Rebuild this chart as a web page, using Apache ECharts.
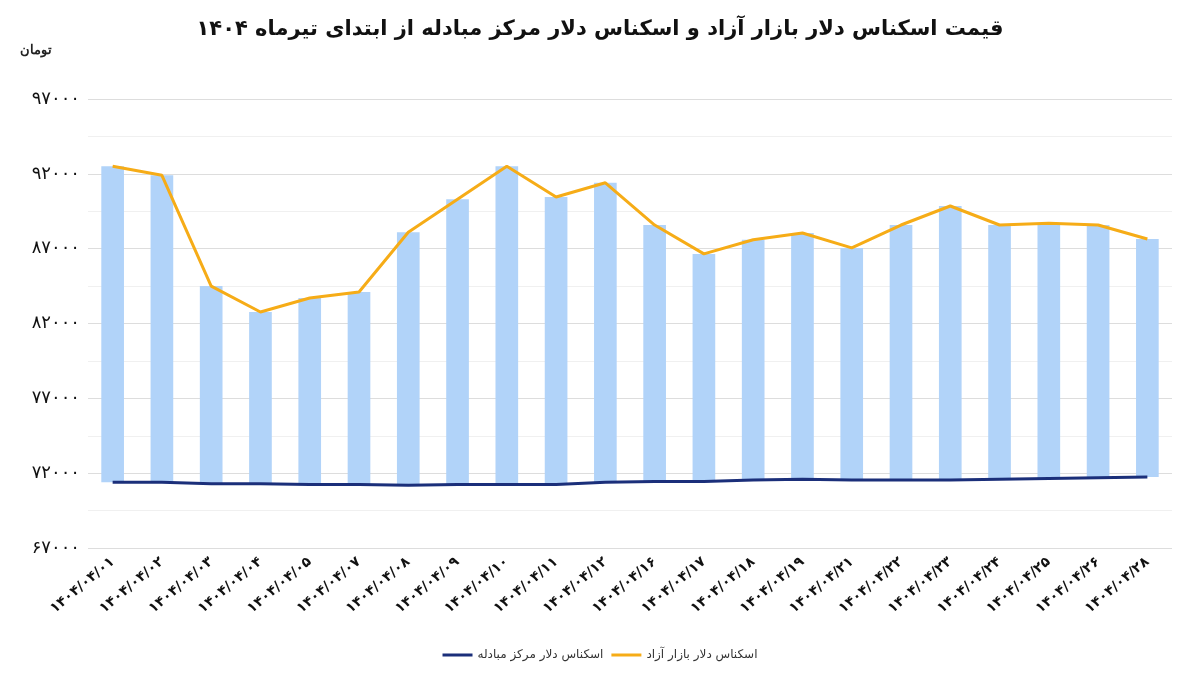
<!DOCTYPE html>
<html><head><meta charset="utf-8">
<script src="https://cdn.jsdelivr.net/npm/echarts@6/dist/echarts.min.js"></script>
<style>html,body{margin:0;padding:0;background:#fff}#c{width:1200px;height:678px}</style>
</head><body><div id="c"></div>
<script>
const categories = ['۱۴۰۴/۰۴/۰۱','۱۴۰۴/۰۴/۰۲','۱۴۰۴/۰۴/۰۳','۱۴۰۴/۰۴/۰۴','۱۴۰۴/۰۴/۰۵','۱۴۰۴/۰۴/۰۷','۱۴۰۴/۰۴/۰۸','۱۴۰۴/۰۴/۰۹','۱۴۰۴/۰۴/۱۰','۱۴۰۴/۰۴/۱۱','۱۴۰۴/۰۴/۱۲','۱۴۰۴/۰۴/۱۶','۱۴۰۴/۰۴/۱۷','۱۴۰۴/۰۴/۱۸','۱۴۰۴/۰۴/۱۹','۱۴۰۴/۰۴/۲۱','۱۴۰۴/۰۴/۲۲','۱۴۰۴/۰۴/۲۳','۱۴۰۴/۰۴/۲۴','۱۴۰۴/۰۴/۲۵','۱۴۰۴/۰۴/۲۶','۱۴۰۴/۰۴/۲۸'];
const freeMarket = [92500,91900,84500,82770,83700,84100,88100,90300,92500,90450,91400,88580,86650,87600,88050,87050,88580,89850,88580,88700,88580,87650];
const exchange = [71400,71400,71300,71300,71250,71250,71200,71250,71250,71250,71400,71450,71450,71550,71600,71550,71550,71550,71600,71650,71700,71750];
const names = ['اسکناس دلار مرکز مبادله','اسکناس دلار بازار آزاد'];
const fa = n => String(n).replace(/\d/g,d=>'۰۱۲۳۴۵۶۷۸۹'[d]);
const chart = echarts.init(document.getElementById('c'));
chart.setOption({
  animation:false,
  textStyle:{fontFamily:'DejaVu Sans'},
  title:{text:'قیمت اسکناس دلار بازار آزاد و اسکناس دلار مرکز مبادله از ابتدای تیرماه ۱۴۰۴',left:'center',top:14,textStyle:{fontSize:21,fontWeight:'bold',color:'#111'}},
  graphic:[{type:'text',left:20,top:44,style:{text:'تومان',fontSize:13,fontWeight:'bold',fill:'#222'}}],
  legend:{bottom:12,itemWidth:30,itemHeight:3,icon:'rect',data:names,textStyle:{fontSize:12,color:'#333'}},
  grid:{left:88,right:28,top:99,bottom:130},
  xAxis:{type:'category',data:categories,axisTick:{show:false},axisLine:{show:false},
    axisLabel:{rotate:40,fontSize:14,fontWeight:'bold',color:'#111',interval:0,margin:12}},
  yAxis:{type:'value',min:67000,max:97000,interval:5000,
    axisLabel:{formatter:v=>fa(v),fontSize:18,color:'#111'},
    splitLine:{lineStyle:{color:'#ddd'}},
    minorTick:{show:false,splitNumber:2},minorSplitLine:{show:true,lineStyle:{color:'#f0f0f0'}}},
  series:[
    {type:'bar',stack:'s',data:exchange,itemStyle:{color:'transparent'},silent:true,barWidth:'46%'},
    {type:'bar',stack:'s',data:freeMarket.map((v,i)=>v-exchange[i]),itemStyle:{color:'#b1d3f9'},barWidth:'46%'},
    {name:names[0],type:'line',data:exchange,symbol:'none',lineStyle:{color:'#1b2f7a',width:3},itemStyle:{color:'#1b2f7a'},z:5},
    {name:names[1],type:'line',data:freeMarket,symbol:'none',lineStyle:{color:'#f6ac17',width:3},itemStyle:{color:'#f6ac17'},z:5}
  ]
});
</script></body></html>
